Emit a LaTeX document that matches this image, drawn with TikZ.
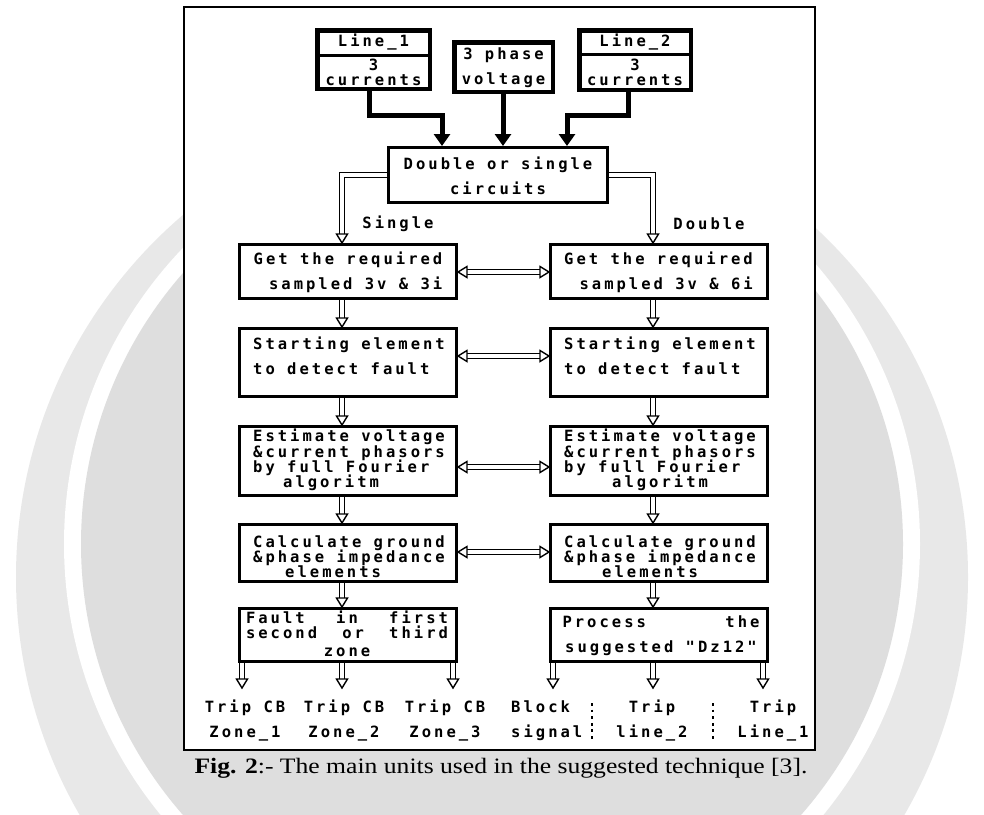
\documentclass[tikz,border=0pt]{standalone}
\usepackage{fontspec}
\usepackage{graphicx}
\usetikzlibrary{arrows.meta}
\newfontfamily\plotfont[LetterSpace=19.5]{DejaVu Sans Mono}
\newfontfamily\capfont{Liberation Serif}
\lineskiplimit=-30pt
\lineskip=0pt
\begin{document}
\begin{tikzpicture}[x=1pt,y=-1pt,
 txt/.style={font=\plotfont\bfseries\fontsize{15.5}{25}\selectfont, inner sep=0pt, align=center},
 tighttxt/.style={font=\plotfont\bfseries\fontsize{15.5}{15.2}\selectfont, inner sep=0pt},
 inbox/.style={draw, line width=4.5pt, inner sep=0pt},
 colbox/.style={draw, line width=3.2pt, minimum width=216.8pt, inner sep=0pt, fill=white},
 blk/.style={line width=5pt, -{Triangle[length=12pt,width=16pt]}},
 hol/.style={draw=black, line width=1.5pt, double=white, double distance=3.5pt},
 htip/.pic={\draw[line width=1.4pt, fill=white, line join=miter] (0,0) -- (-9pt,5.5pt) -- (-9pt,-5.5pt) -- cycle;},
 sepline/.style={line width=2.8pt, dash pattern=on 2.8pt off 3.8pt},
]
\useasboundingbox (0,0) rectangle (984,814);
\fill[white] (0,0) rectangle (984,814);

% faint watermark behind the figure
\fill[black!9] (492,577) circle[radius=476];
\fill[white] (492,544) circle[radius=428];
\fill[black!13] (492,544) circle[radius=411];

% frame
\draw[line width=2.5pt, fill=white] (184,7) rectangle (815,750);

% input boxes
\node[inbox, minimum width=112.5pt, minimum height=58.5pt] (l1) at (373.5,59.5) {};
\draw[line width=3pt] ([yshift=4.5pt]l1.west) -- ([yshift=4.5pt]l1.east);
\node[txt] (l1h) at (373.5,42) {Line\_1};
\node[tighttxt, align=center] (l1c) at (373.5,72.5) {3\\currents};

\node[inbox, minimum width=98.5pt, minimum height=49.5pt] (v3) at (503.5,67) {};
\node[txt] (v3t) at (503.5,67.5) {3 phase\\voltage};

\node[inbox, minimum width=111.5pt, minimum height=59.5pt] (l2) at (635,60) {};
\draw[line width=3pt] ([yshift=6pt]l2.west) -- ([yshift=6pt]l2.east);
\node[txt] (l2h) at (635,42) {Line\_2};
\node[tighttxt, align=center] (l2c) at (635,72.5) {3\\currents};

% selector box
\node[draw, line width=2.8pt, minimum width=219.2pt, minimum height=55.2pt] (ds) at (498,175) {};
\node[txt] (dst) at (498,176) {Double or single\\circuits};
\node[txt] (lsingle) at (398,224) {Single};
\node[txt] (ldouble) at (709,224) {Double};

% column boxes
\node[colbox, minimum height=53.8pt] (g1) at (348,271.5) {};
\node[colbox, minimum height=53.8pt] (g2) at (659,271.5) {};
\node[colbox, minimum height=67.8pt] (s1) at (348,362.5) {};
\node[colbox, minimum height=67.8pt] (s2) at (659,362.5) {};
\node[colbox, minimum height=68.8pt] (e1) at (348,461) {};
\node[colbox, minimum height=68.8pt] (e2) at (659,461) {};
\node[colbox, minimum height=56.8pt] (c1) at (348,553) {};
\node[colbox, minimum height=56.8pt] (c2) at (659,553) {};
\node[colbox, minimum height=52.8pt] (f1) at (348,635) {};
\node[colbox, minimum height=52.8pt] (p2) at (659,635) {};

\node[txt, align=right] (g1t) at (348,272) {Get the required\\sampled 3v \& 3i};
\node[txt, align=right] (g2t) at (658.5,272) {Get the required\\sampled 3v \& 6i};
\node[txt, align=left] (s1t) at (349,355.5) {Starting element\\to detect fault};
\node[txt, align=left] (s2t) at (660,355.5) {Starting element\\to detect fault};
\node[tighttxt, align=left] (e1t) at (349,460) {Estimate voltage\\\&current phasors\\by full Fourier\\\hspace*{30pt}algoritm};
\node[tighttxt, align=left] (e2t) at (660,460) {Estimate voltage\\\&current phasors\\by full Fourier\\\hspace*{48pt}algoritm};
\node[tighttxt, align=left] (c1t) at (349,557) {Calculate ground\\\&phase impedance\\\hspace*{32pt}elements};
\node[tighttxt, align=left] (c2t) at (660,557) {Calculate ground\\\&phase impedance\\\hspace*{38pt}elements};
\node[tighttxt, align=center] (f1t) at (347,634) {\makebox[202pt]{Fault\hfill in\hfill first}\\\makebox[202pt]{second\hfill or\hfill third}\\[3pt]zone};
\node[txt] (p2t) at (661,635.5) {\makebox[197pt]{Process\hfill the}\\suggested "Dz12"};

% black input connectors
\coordinate (k1) at (369,0);
\coordinate (k2) at (442,0);
\coordinate (k3) at (503,0);
\coordinate (k4) at (628,0);
\coordinate (k5) at (567,0);
\coordinate (jog) at (0,115);
\draw[blk] (l1.south -| k1) -- (k1 |- jog) -| (ds.north -| k2);
\draw[blk] (v3.south -| k3) -- (ds.north -| k3);
\draw[blk] (l2.south -| k4) -- (k4 |- jog) -| (ds.north -| k5);

% hollow connectors
\coordinate (colL) at (342,0);
\coordinate (colR) at (653,0);
\draw[hol, shorten >=8pt] (ds.west) -| (g1.north -| colL);
\pic[rotate=-90] at (g1.north -| colL) {htip};
\draw[hol, shorten >=8pt] (ds.east) -| (g2.north -| colR);
\pic[rotate=-90] at (g2.north -| colR) {htip};

\foreach \a/\b in {g1/s1, s1/e1, e1/c1, c1/f1} {
  \draw[hol, shorten >=8pt] (\a.south -| colL) -- (\b.north -| colL);
  \pic[rotate=-90] at (\b.north -| colL) {htip};
}
\foreach \a/\b in {g2/s2, s2/e2, e2/c2, c2/p2} {
  \draw[hol, shorten >=8pt] (\a.south -| colR) -- (\b.north -| colR);
  \pic[rotate=-90] at (\b.north -| colR) {htip};
}

\coordinate (hg) at (0,272);
\coordinate (hs) at (0,356);
\coordinate (he) at (0,467);
\coordinate (hc) at (0,552);
\foreach \l/\r/\h in {g1/g2/hg, s1/s2/hs, e1/e2/he, c1/c2/hc} {
  \draw[hol, shorten >=8pt, shorten <=8pt] (\l.east |- \h) -- (\r.west |- \h);
  \pic[rotate=180] at (\l.east |- \h) {htip};
  \pic at (\r.west |- \h) {htip};
}

% outputs
\coordinate (outy) at (0,688);
\coordinate (o1) at (242,0);
\coordinate (o3) at (453,0);
\coordinate (o4) at (553,0);
\coordinate (o6) at (763,0);
\foreach \b/\c in {f1/o1, f1/colL, f1/o3, p2/o4, p2/colR, p2/o6} {
  \draw[hol, shorten >=8pt] (\b.south -| \c) -- (\c |- outy);
  \pic[rotate=-90] at (\c |- outy) {htip};
}

\node[txt] (z1) at (245,721) {Trip CB\\Zone\_1};
\node[txt] (z2) at (344,721) {Trip CB\\Zone\_2};
\node[txt] (z3) at (445,721) {Trip CB\\Zone\_3};
\node[txt, align=left, anchor=west] (bk) at (511,721) {Block\\signal};
\node[txt] (t2) at (652,721) {Trip\\line\_2};
\node[txt] (t1) at (773,721) {Trip\\Line\_1};
\coordinate (sa1) at (592,703);
\coordinate (sb1) at (592,741);
\coordinate (sa2) at (713,703);
\coordinate (sb2) at (713,741);
\draw[sepline] (sa1) -- (sb1);
\draw[sepline] (sa2) -- (sb2);

% caption
\node[anchor=base, inner sep=0pt, font=\capfont\fontsize{22}{26}\selectfont] (cap) at (501,773) {\scalebox{1.165}[1]{\textbf{Fig. 2}:- The main units used in the suggested technique [3].}};
\end{tikzpicture}
\end{document}
